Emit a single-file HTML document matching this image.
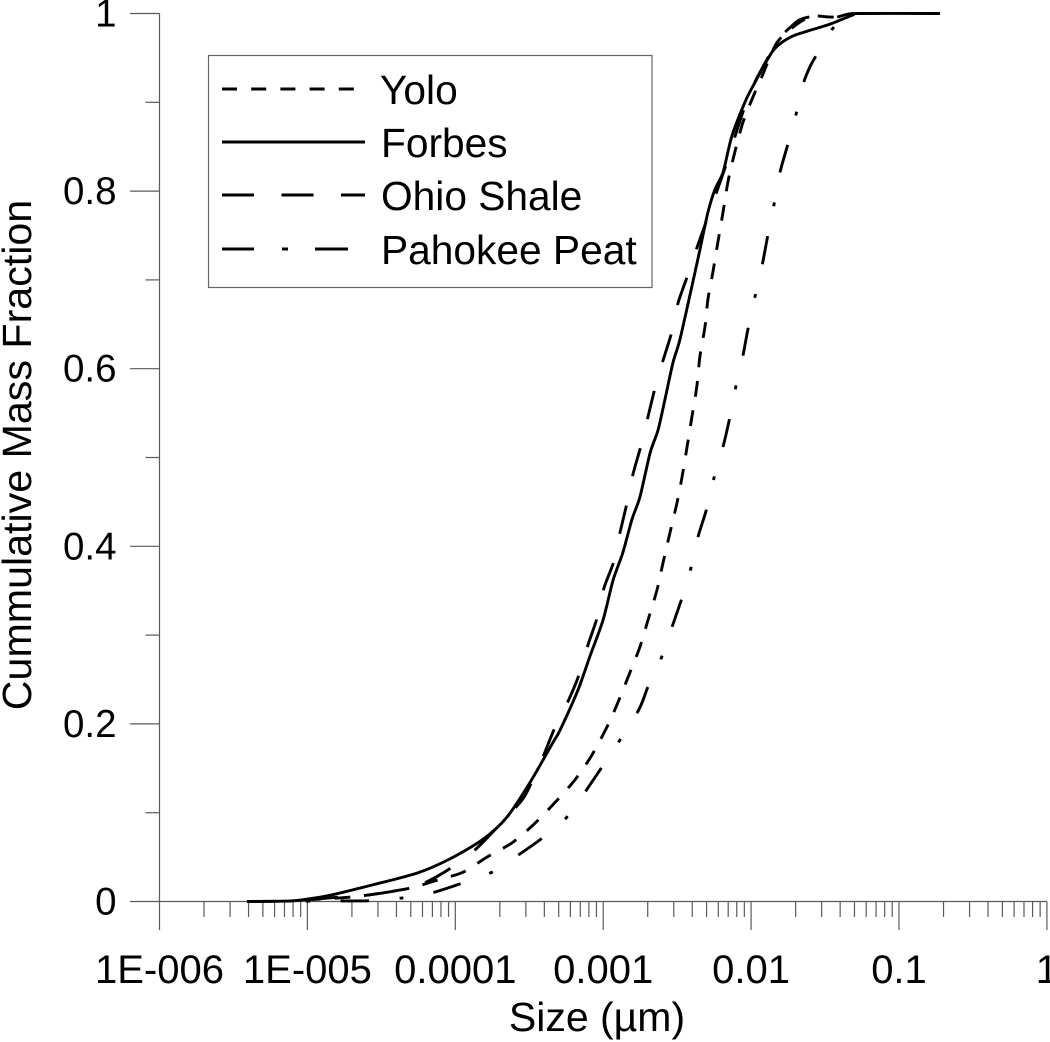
<!DOCTYPE html>
<html>
<head>
<meta charset="utf-8">
<title>Cummulative Mass Fraction</title>
<style>
html,body{margin:0;padding:0;background:#fff;width:1050px;height:1042px;overflow:hidden}
svg{display:block;font-family:"Liberation Sans",Arial,sans-serif;fill:#000}
</style>
</head>
<body>
<svg id="chart" width="1050" height="1042" viewBox="0 0 1050 1042" xmlns="http://www.w3.org/2000/svg">
  <rect width="1050" height="1042" fill="#fff"/>
  <g id="axes"></g>
  <g id="series"></g>
  <text x="597" y="1031" font-size="41" text-anchor="middle">Size (µm)</text>
  <text transform="translate(31,455) rotate(-90)" font-size="41.2" text-anchor="middle">Cummulative Mass Fraction</text>
  <g>
    <rect x="208.5" y="55.5" width="443.5" height="232" fill="#fff" stroke="#666" stroke-width="1.2"/>
    <line x1="222" y1="89" x2="358" y2="89" stroke="#000" stroke-width="2.9" stroke-dasharray="15 14.2"/>
    <text x="380" y="104" font-size="40.7">Yolo</text>
    <line x1="222" y1="142" x2="365" y2="142" stroke="#000" stroke-width="2.9"/>
    <text x="381" y="157" font-size="40.7">Forbes</text>
    <line x1="222" y1="195" x2="365" y2="195" stroke="#000" stroke-width="2.9" stroke-dasharray="32 27.5"/>
    <text x="381" y="210" font-size="40.7">Ohio Shale</text>
    <line x1="222" y1="249" x2="348" y2="249" stroke="#000" stroke-width="2.9" stroke-dasharray="32 28 6 27 33"/>
    <text x="381" y="264" font-size="40.7">Pahokee Peat</text>
  </g>
</svg>
<script>
// Axis tick data
const xDecades = [-6, -5, -4, -3, -2, -1, 0];
const xTickLabels = ["1E-006", "1E-005", "0.0001", "0.001", "0.01", "0.1", "1"];
const yTicks = [0, 0.1, 0.2, 0.3, 0.4, 0.5, 0.6, 0.7, 0.8, 0.9, 1];
const yTickLabels = ["0", "", "0.2", "", "0.4", "", "0.6", "", "0.8", "", "1"];
const minorMultipliers = [2, 3, 4, 5, 6, 7, 8, 9];

// Series data: log10(size in µm) and cumulative mass fraction
const forbesLogSize = [-5.402,-5.118,-4.989,-4.847,-4.624,-4.259,-4.036,-3.813,-3.651,-3.495,-3.340,-3.292,-3.171,-3.090,-3.001,-2.933,-2.867,-2.806,-2.751,-2.683,-2.629,-2.583,-2.528,-2.481,-2.400,-2.346,-2.292,-2.244,-2.190,-2.130,-2.042,-1.988,-1.852,-1.738,-1.622,-1.466,-1.311,-1.270,-0.723];
const forbesFraction = [0,0.0006,0.003,0.007,0.016,0.032,0.048,0.070,0.095,0.134,0.179,0.193,0.238,0.276,0.317,0.362,0.393,0.430,0.456,0.505,0.531,0.565,0.607,0.633,0.693,0.734,0.776,0.802,0.821,0.862,0.900,0.918,0.958,0.973,0.980,0.988,0.9985,1,1];

const yoloLogSize = [-5.118,-4.989,-4.779,-4.604,-4.307,-4.124,-3.948,-3.786,-3.617,-3.475,-3.340,-3.191,-3.076,-2.967,-2.901,-2.819,-2.751,-2.697,-2.636,-2.596,-2.549,-2.501,-2.467,-2.433,-2.400,-2.367,-2.346,-2.312,-2.292,-2.258,-2.224,-2.190,-2.157,-2.110,-2.056,-1.995,-1.927,-1.826,-1.690,-1.582,-1.446,-1.311];
const yoloFraction = [0.0002,0.002,0.004,0.007,0.015,0.024,0.033,0.050,0.066,0.086,0.109,0.137,0.165,0.199,0.224,0.258,0.287,0.317,0.351,0.381,0.415,0.449,0.478,0.512,0.546,0.580,0.614,0.647,0.678,0.709,0.743,0.776,0.810,0.844,0.877,0.903,0.929,0.967,0.988,0.997,0.996,1];

const ohioLogSize = [-4.989,-4.779,-4.597,-4.307,-4.206,-4.036,-3.868,-3.732,-3.550,-3.482,-3.407,-3.326,-3.239,-3.164,-3.103,-3.042,-2.995,-2.928,-2.887,-2.839,-2.799,-2.745,-2.697,-2.650,-2.596,-2.535,-2.494,-2.427,-2.367,-2.292,-2.231,-2.164,-2.089,-2.008,-1.920,-1.852,-1.805,-1.738,-1.670,-1.568,-1.521,-1.419,-1.352,-1.311];
const ohioFraction = [0.002,0.005,0.007,0.015,0.021,0.037,0.058,0.081,0.114,0.135,0.163,0.196,0.225,0.255,0.289,0.319,0.353,0.383,0.415,0.449,0.481,0.513,0.546,0.578,0.609,0.642,0.674,0.706,0.736,0.771,0.800,0.832,0.872,0.911,0.940,0.960,0.973,0.984,0.993,0.997,0.992,0.996,0.999,1];

const pahokeeLogSize = [-5.408,-4.779,-4.557,-4.354,-4.152,-3.948,-3.752,-3.577,-3.407,-3.246,-3.022,-2.772,-2.697,-2.603,-2.535,-2.467,-2.406,-2.360,-2.299,-2.251,-2.190,-2.144,-2.103,-2.056,-2.022,-1.974,-1.927,-1.886,-1.845,-1.805,-1.751,-1.697,-1.649,-1.602,-1.555,-1.453,-1.352,-1.298];
const pahokeeFraction = [0,0.0006,0.001,0.004,0.010,0.021,0.033,0.052,0.072,0.095,0.148,0.212,0.242,0.276,0.309,0.342,0.376,0.410,0.443,0.477,0.512,0.545,0.580,0.614,0.644,0.681,0.715,0.751,0.785,0.821,0.853,0.886,0.920,0.940,0.954,0.982,1,1];

const NS = "http://www.w3.org/2000/svg";
const X0 = 159.5, DECADE = 147.9, Y0 = 901.5, YSPAN = 888;
function xScale(logSize) { return X0 + (logSize + 6) * DECADE; }
function yScale(fraction) { return Y0 - fraction * YSPAN; }

const axes = document.getElementById("axes");
const seriesGroup = document.getElementById("series");

function makeLine(x1, y1, x2, y2) {
  const l = document.createElementNS(NS, "line");
  l.setAttribute("x1", x1);
  l.setAttribute("y1", y1);
  l.setAttribute("x2", x2);
  l.setAttribute("y2", y2);
  l.setAttribute("stroke", "#5a5a5a");
  l.setAttribute("stroke-width", "1.2");
  return l;
}
function makeText(x, y, anchor, str, size) {
  const t = document.createElementNS(NS, "text");
  t.setAttribute("x", x);
  t.setAttribute("y", y);
  t.setAttribute("text-anchor", anchor);
  t.setAttribute("font-size", size);
  t.textContent = str;
  return t;
}

// Axis lines
const xAxisLine = makeLine(xScale(-6), Y0, xScale(0), Y0);


axes.appendChild(xAxisLine);
const yAxisLine = makeLine(X0, yScale(1), X0, yScale(0));


axes.appendChild(yAxisLine);

// X ticks
xDecades.forEach(function (d, i) {
  const px = xScale(d);
  const tick = makeLine(px, Y0, px, 930);
  
  
  axes.appendChild(tick);
  const label = makeText(px, 983, "middle", xTickLabels[i], "40");
  
  
  axes.appendChild(label);
  if (i < xDecades.length - 1) {
    minorMultipliers.forEach(function (m) {
      const mx = xScale(d + Math.log10(m));
      const minor = makeLine(mx, Y0, mx, 917);
      
      
      axes.appendChild(minor);
    });
  }
});

// Y ticks
yTicks.forEach(function (v, i) {
  const py = yScale(v);
  const isMajor = yTickLabels[i] !== "";
  const tick = makeLine(isMajor ? 130 : 145.5, py, X0, py);
  
  
  axes.appendChild(tick);
  if (isMajor) {
    const label = makeText(116.5, py + 13, "end", yTickLabels[i], "38.5");
    
    
    axes.appendChild(label);
  }
});

// Series: smooth curve through the data points
function drawSeries(sizes, fractions, dash, offset) {
  const p = document.createElementNS(NS, "path");
  const xs = sizes.map(xScale);
  const ys = fractions.map(yScale);
  const k = 0.14;
  let d = "M" + xs[0].toFixed(2) + " " + ys[0].toFixed(2);
  for (let i = 0; i < xs.length - 1; i++) {
    const a = Math.max(i - 1, 0), b = Math.min(i + 2, xs.length - 1);
    d += "C" + (xs[i] + (xs[i + 1] - xs[a]) * k).toFixed(2) + " " + (ys[i] + (ys[i + 1] - ys[a]) * k).toFixed(2) +
         " " + (xs[i + 1] - (xs[b] - xs[i]) * k).toFixed(2) + " " + (ys[i + 1] - (ys[b] - ys[i]) * k).toFixed(2) +
         " " + xs[i + 1].toFixed(2) + " " + ys[i + 1].toFixed(2);
  }
  p.setAttribute("d", d);
  p.setAttribute("fill", "none");
  p.setAttribute("stroke", "#000");
  p.setAttribute("stroke-width", "2.9");
  p.setAttribute("stroke-linejoin", "round");
  if (dash) {
    p.setAttribute("stroke-dasharray", dash);
    p.setAttribute("stroke-dashoffset", offset);
  }
  return p;
}
const yoloPath = drawSeries(yoloLogSize, yoloFraction, "16 13.7", -14.9);


seriesGroup.appendChild(yoloPath);
const ohioPath = drawSeries(ohioLogSize, ohioFraction, "29 30", 0);


seriesGroup.appendChild(ohioPath);
const pahokeePath = drawSeries(pahokeeLogSize, pahokeeFraction, "28.5 30.5 4 30.5", 0);


seriesGroup.appendChild(pahokeePath);
const forbesPath = drawSeries(forbesLogSize, forbesFraction, null, 0);


seriesGroup.appendChild(forbesPath);
</script>
</body>
</html>
